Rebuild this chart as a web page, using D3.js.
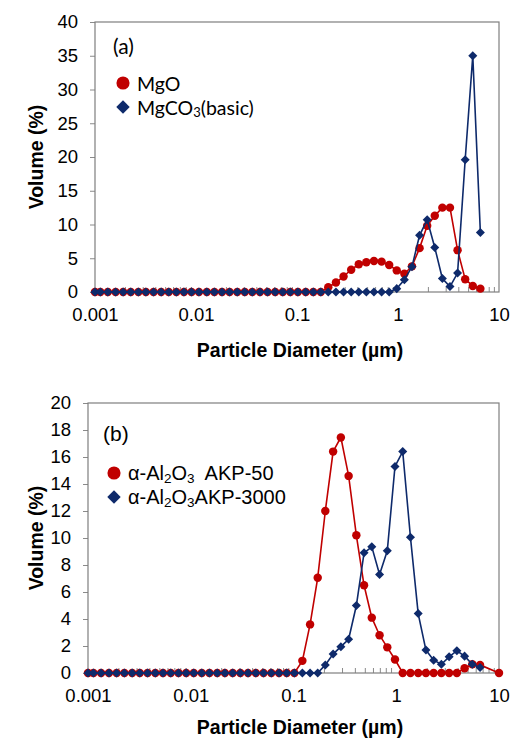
<!DOCTYPE html>
<html><head><meta charset="utf-8">
<script src="https://cdn.jsdelivr.net/npm/d3@7"></script>
<style>body{margin:0;background:#fff}svg{display:block}text{white-space:pre}</style>
</head><body>
<svg id="c" width="512" height="742"></svg>
<script>
// ---- data ----
const diameters = [0.001,0.00113,0.00134,0.00160,0.00190,0.00226,0.00269,0.00319,0.00380,0.00452,
  0.00537,0.00639,0.00760,0.00903,0.0107,0.0128,0.0152,0.0181,0.0215,0.0256,
  0.0304,0.0361,0.0430,0.0511,0.0608,0.0723,0.0859,0.102,0.122,0.145,
  0.172,0.204,0.243,0.289,0.344,0.409,0.486,0.578,0.688,0.818,
  0.972,1.156,1.375,1.635,1.945,2.312,2.750,3.270,3.889,4.625,5.500,6.540];
const mgoVolume = [0,0,0,0,0,0,0,0,0,0, 0,0,0,0,0,0,0,0,0,0, 0,0,0,0,0,0,0,0,0,0,
  0,0.7,1.4,2.3,3.3,4.1,4.4,4.6,4.5,4.0, 3.2,2.7,3.8,6.5,9.8,11.3,12.5,12.5,6.2,1.9,0.9,0.5];
const mgco3Volume = [0,0,0,0,0,0,0,0,0,0, 0,0,0,0,0,0,0,0,0,0, 0,0,0,0,0,0,0,0,0,0,
  0,0,0,0,0,0,0,0,0,0, 0.5,1.8,3.75,8.4,10.7,6.6,2.0,0.8,2.8,19.6,35,8.8];
const akp50Extra = {d: 10, v: 0};
const akp50Volume = [0,0,0,0,0,0,0,0,0,0, 0,0,0,0,0,0,0,0,0,0, 0,0,0,0,0,0,0,0,0.9,3.6,
  7.05,12.0,16.4,17.45,14.6,10.2,6.5,4.1,2.8,1.9, 1.0,0,0,0,0,0,0,0,0,0.35,0.65,0.6];
const akp3000Volume = [0,0,0,0,0,0,0,0,0,0, 0,0,0,0,0,0,0,0,0,0, 0,0,0,0,0,0,0,0,0,0,
  0,0.6,1.4,1.95,2.5,5.0,8.9,9.35,7.3,9.05, 15.3,16.4,10.05,4.4,1.7,0.95,0.65,1.2,1.65,1.25,0.65,0.4];
const xTickValues = [0.001,0.01,0.1,1,10];
const xTickLabels = ["0.001","0.01","0.1","1","10"];
const yTicksA = [0,5,10,15,20,25,30,35,40];
const yTicksB = [0,2,4,6,8,10,12,14,16,18,20];

const RED = "#C00000", BLUE = "#0E2A6B";
const svg = d3.select("#c");
const tickFont = "'Liberation Sans', Arial, sans-serif";

function panel(cfg){
  const {left,right,top,bottom,yMax,yTicks,series,tag,legend,legendFont,legendSize,subSize,legendX,legendY,tagX,tagY,titleY} = cfg;
  const x = d3.scaleLog().domain([0.001,10]).range([left,right]);
  const y = d3.scaleLinear().domain([0,yMax]).range([bottom,top]);
  const g = svg.append("g");
  const minors = [];
  for (let e=-3; e<1; e++) for (let m=2; m<=9; m++) minors.push(m*Math.pow(10,e));
  g.append("g").selectAll("line").data(minors).join("line")
    .attr("x1",d=>x(d)).attr("x2",d=>x(d)).attr("y1",bottom).attr("y2",bottom-5)
    .attr("stroke","#8a8a8a").attr("stroke-width",1);
  const ya = d3.axisLeft(y).tickValues(yTicks).tickSize(5).tickPadding(12);
  const yg = g.append("g").attr("transform",`translate(${left},0)`).call(ya);
  yg.select(".domain").remove();
  yg.selectAll("line").attr("stroke","#8a8a8a");
  yg.selectAll("text").attr("font-family",tickFont).attr("font-size",18.5).attr("fill","#000");
  const xa = d3.axisBottom(x).tickValues(xTickValues).tickFormat((d,i)=>xTickLabels[i]).tickSize(0).tickPadding(16);
  const xg = g.append("g").attr("transform",`translate(0,${bottom})`).call(xa);
  xg.select(".domain").remove();
  xg.selectAll("text").attr("font-family",tickFont).attr("font-size",18.5).attr("fill","#000");
  g.append("rect").attr("x",left).attr("y",top).attr("width",right-left).attr("height",bottom-top)
    .attr("fill","none").attr("stroke","#7f7f7f").attr("stroke-width",1.2);
  const line = d3.line().x(d=>x(d.d)).y(d=>y(d.v));
  series.forEach(s=>{
    g.append("path").datum(s.data).attr("d",line).attr("fill","none")
      .attr("stroke",s.color).attr("stroke-width",1.6);
    const sym = d3.symbol().type(s.shape==="circle"?d3.symbolCircle:d3.symbolDiamond2).size(s.shape==="circle"?56:52);
    g.append("g").selectAll("path").data(s.data).join("path")
      .attr("transform",d=>`translate(${x(d.d)},${y(d.v)})`)
      .attr("d",sym).attr("fill",s.color);
  });
  svg.append("text").attr("transform",`translate(36,${(top+bottom)/2}) rotate(-90)`)
    .attr("text-anchor","middle").attr("dominant-baseline","central")
    .attr("font-family",tickFont).attr("font-weight","bold").attr("font-size",19.5).text("Volume (%)");
  svg.append("text").attr("x",300).attr("y",titleY).attr("text-anchor","middle")
    .attr("font-family",tickFont).attr("font-weight","bold").attr("font-size",19.5).text("Particle Diameter (µm)");
  svg.append("text").attr("x",tagX).attr("y",tagY).attr("dominant-baseline","central")
    .attr("font-family",legendFont).attr("font-size",21).text(tag);
  legend.forEach((l,i)=>{
    const cy = legendY[i];
    const sym = d3.symbol().type(l.shape==="circle"?d3.symbolCircle:d3.symbolDiamond2).size(l.shape==="circle"?135:115);
    svg.append("path").attr("transform",`translate(${legendX},${cy})`).attr("d",sym).attr("fill",l.color);
    const t = svg.append("text").attr("x",legendX+14).attr("y",cy).attr("dominant-baseline","central")
      .attr("font-family",legendFont).attr("font-size",legendSize).attr("xml:space","preserve");
    l.parts.forEach(p=>{
      const ts = t.append("tspan").text(p.t);
      if (p.sub) ts.attr("font-size",subSize).attr("dy",5);
      if (p.after) ts.attr("dy",-5);
    });
  });
}

panel({left:95,right:499,top:22,bottom:292,yMax:40,yTicks:yTicksA,titleY:357,
  series:[
    {color:RED,shape:"circle",data:diameters.map((d,i)=>({d,v:mgoVolume[i]}))},
    {color:BLUE,shape:"diamond",data:diameters.map((d,i)=>({d,v:mgco3Volume[i]}))}
  ],
  tag:"(a)",tagX:113,tagY:45,legendFont:"Lato, 'Open Sans', sans-serif",legendSize:19.5,subSize:13,legendX:123,legendY:[83,107],
  legend:[
    {color:RED,shape:"circle",parts:[{t:"MgO"}]},
    {color:BLUE,shape:"diamond",parts:[{t:"MgCO"},{t:"3",sub:true},{t:"(basic)",after:true}]}
  ]});

panel({left:88,right:499,top:403,bottom:673,yMax:20,yTicks:yTicksB,titleY:734,
  series:[
    {color:RED,shape:"circle",data:diameters.map((d,i)=>({d,v:akp50Volume[i]})).concat([{d:akp50Extra.d,v:akp50Extra.v}])},
    {color:BLUE,shape:"diamond",data:diameters.map((d,i)=>({d,v:akp3000Volume[i]}))}
  ],
  tag:"(b)",tagX:103,tagY:433,legendFont:tickFont,legendSize:20,subSize:13.5,legendX:114,legendY:[473,497],
  legend:[
    {color:RED,shape:"circle",parts:[{t:"α-Al"},{t:"2",sub:true},{t:"O",after:true},{t:"3",sub:true},{t:"  AKP-50",after:true}]},
    {color:BLUE,shape:"diamond",parts:[{t:"α-Al"},{t:"2",sub:true},{t:"O",after:true},{t:"3",sub:true},{t:"AKP-3000",after:true}]}
  ]});
</script>
</body></html>
